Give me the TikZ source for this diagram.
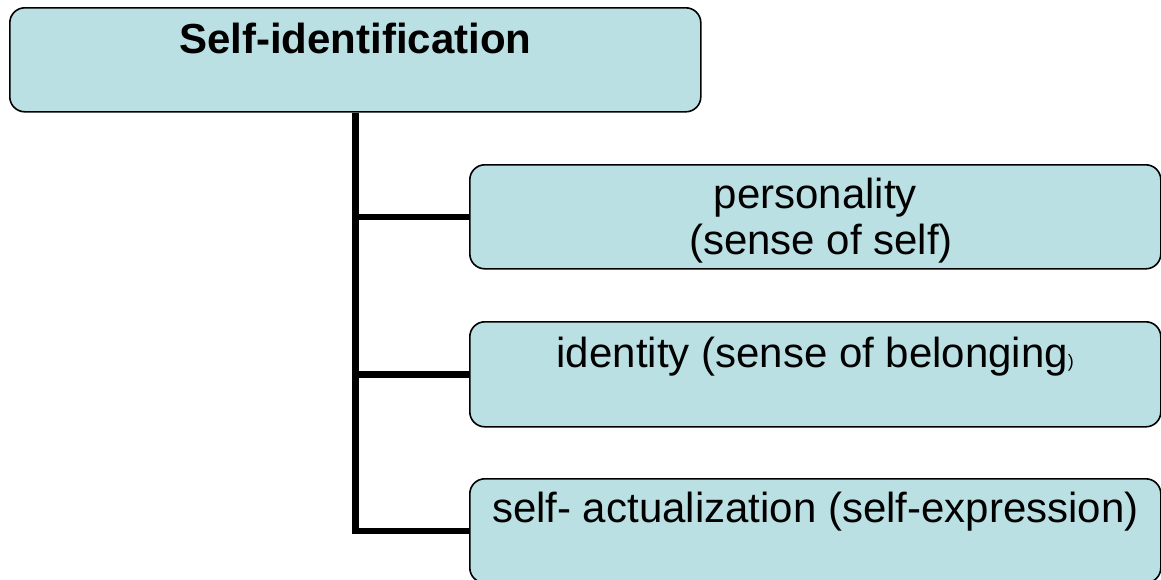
\documentclass[tikz,border=0pt]{standalone}
\usepackage{fontspec}
\setmainfont{Liberation Sans}
\definecolor{boxfill}{RGB}{186,224,227}
\begin{document}
\begin{tikzpicture}[x=1pt,y=-1pt,
  box/.style={draw=black, line width=1.6pt, fill=boxfill, rounded corners=15pt,
    inner sep=0pt, minimum width=691pt, minimum height=0pt, anchor=north west,
    align=center, font=\fontsize{42}{46}\selectfont},
  conn/.style={draw=black, line width=6.5pt, line join=miter}]
\useasboundingbox (0,0) rectangle (1161,579);
\node[box, text height=46pt, text depth=58pt, font=\fontsize{42}{46}\selectfont\bfseries] (top) at (9,7) {Self-identification};
\node[box, text height=90pt, text depth=14pt] (b2) at (469,164) {personality\\\ (sense of self)};
\node[box, text height=46pt, text depth=59pt] (b3) at (469,321) {identity (sense of belonging{\fontsize{18}{20}\selectfont)}};
\node[box, text height=44pt, text depth=60pt] (b4) at (469,478) {self- actualization (self-expression)};
\draw[conn] (top.south) |- (b4.west);
\draw[conn] (top.south |- b2.west) -- (b2.west);
\draw[conn] (top.south |- b3.west) -- (b3.west);
\end{tikzpicture}
\end{document}
